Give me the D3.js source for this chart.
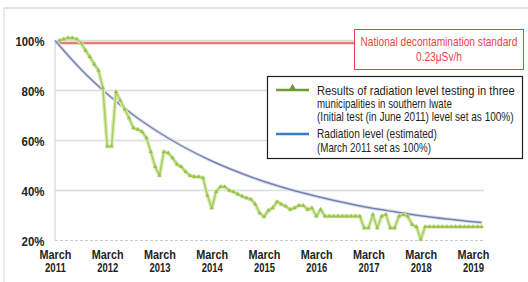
<!DOCTYPE html>
<html><head><meta charset="utf-8">
<script src="https://cdn.jsdelivr.net/npm/d3@7"></script>
<style>
html,body{margin:0;padding:0;background:#fff;}
svg{display:block;}
text{font-family:"Liberation Sans",sans-serif;}
</style></head>
<body><svg id="c" width="528" height="282"></svg>
<script>
// ---- data ----
const xTickLabels = ["2011","2012","2013","2014","2015","2016","2017","2018","2019"];
const yTicks = [20,40,60,80,100];
// measured series: months after March 2011, value (%)
const measuredMonths = [1,2,3,4,5,6,7,8,9,10,11,12,13,14,15,16,17,18,19,20,21,22,23,24,25,26,27,28,29,30,31,32,33,34,35,36,37,38,39,40,41,42,43,44,45,46,47,48,49,50,51,52,53,54,55,56,57,58,59,60,61,62,63,64,65,66,67,68,69,70,71,72,73,74,75,76,77,78,79,80,81,82,83,84,85,86,87,88,89,90,91,92,93,94,95,96,97,98];
const measuredValues = [100,100.5,101,101,100.5,99,96,93.5,90.5,88,81,57.7,57.7,79.5,76,72.5,69,65,64.4,63.5,61,55.5,49.5,46,55.5,55,53,50.5,49.5,47.5,46,45.5,45.5,45,38,33,39.5,41.5,41.5,40,39.5,38.5,37.7,37,36.5,34.5,31,29.5,32,33,35.5,34.5,33.7,32.4,33,34,34,32.4,33,29.7,32.4,29.7,29.7,29.7,29.7,29.7,29.7,29.7,29.7,29.7,25,25,30.4,25,29.7,30.4,25,25,29.7,30.4,29.7,26.4,25.5,20.4,25.5,25.5,25.5,25.5,25.5,25.5,25.5,25.5,25.5,25.5,25.5,25.5,25.5,25.5];
// estimated series: months after March 2011, value (%)
const estimatedMonths = [0,6,12,18,24,30,36,42,48,54,60,66,72,78,84,90,96,98];
const estimatedValues = [100,88.4,78.6,70.2,63.1,57,51.8,47.4,43.6,40.4,37.7,35.3,33.2,31.5,29.9,28.6,27.5,27.2];
const standardValue = 99;
const standardLabel = ["National decontamination standard","0.23μSv/h"];
const legendMeasured = ["Results of radiation level testing in three","municipalities in southern Iwate","(Initial test (in June 2011) level set as 100%)"];
const legendEstimated = ["Radiation level (estimated)","(March 2011 set as 100%)"];

function draw(){
const svg = d3.select("#c");
const x = d3.scaleLinear().domain([0,96]).range([55,473]);
const y = d3.scaleLinear().domain([20,100]).range([240.5,40.5]);
const xEnd = x(98.5);

// place a text at (px,py), horizontally scaled to width w
function addText(parent, str, px, py, w, anchor, attrs){
  const t = parent.append("text").text(str).attr("x",0).attr("y",0).attr("text-anchor","start");
  Object.entries(attrs).forEach(([k,v])=>t.attr(k,v));
  const nat = t.node().getComputedTextLength();
  const s = w / nat;
  const dx = anchor === "middle" ? -w/2 : anchor === "end" ? -w : 0;
  t.attr("transform",`translate(${px+dx},${py}) scale(${s},1)`);
  return t;
}

// frame
svg.append("rect").attr("x",0).attr("y",0).attr("width",528).attr("height",282).attr("fill","#fff");
svg.append("line").attr("x1",4).attr("x2",528).attr("y1",8).attr("y2",8).attr("stroke","#e2e2e2").attr("stroke-width",2);
svg.append("line").attr("x1",4).attr("x2",4).attr("y1",8).attr("y2",282).attr("stroke","#e6e6e6").attr("stroke-width",1.5);

// grid
svg.append("g").selectAll("line").data(yTicks.filter(d=>d>20)).join("line")
  .attr("x1",55).attr("x2",xEnd).attr("y1",d=>y(d)).attr("y2",d=>y(d))
  .attr("stroke","#dcdcdc").attr("stroke-width",1.3);
svg.append("line").attr("x1",55).attr("x2",xEnd).attr("y1",y(20)).attr("y2",y(20))
  .attr("stroke","#c8c8c8").attr("stroke-width",1).attr("stroke-dasharray","3,2");
svg.append("line").attr("x1",55).attr("x2",55).attr("y1",y(100)).attr("y2",y(20))
  .attr("stroke","#d0d0d0").attr("stroke-width",1);

// y axis (labels)
const yAxis = d3.axisLeft(y).tickValues(yTicks).tickFormat("").tickSize(0);
const ya = svg.append("g").attr("transform","translate(55,0)").call(yAxis);
ya.select(".domain").remove();
ya.selectAll(".tick text").remove();
ya.selectAll(".tick").each(function(d){
  addText(d3.select(this), d+"%", -10.5, 4.5, d===100 ? 29 : 23, "end",
    {"font-size":12.5,"font-weight":"bold","fill":"#231f20"});
});

// x axis (labels)
const xAxis = d3.axisBottom(x).tickValues(xTickLabels.map((d,i)=>i*12)).tickSize(0).tickFormat("");
const xa = svg.append("g").attr("transform","translate(0,241)").call(xAxis);
xa.select(".domain").remove();
xa.selectAll(".tick text").remove();
xa.selectAll(".tick").each(function(d,i){
  const g = d3.select(this);
  const a = {"font-size":12.5,"font-weight":"bold","fill":"#231f20"};
  addText(g, "March", 0, 18, 32, "middle", a);
  addText(g, xTickLabels[i], 0, 31, 21, "middle", a);
});

// standard line
svg.append("line").attr("x1",55).attr("x2",354).attr("y1",y(standardValue)).attr("y2",y(standardValue))
  .attr("stroke","#f8d8d4").attr("stroke-width",4);
svg.append("line").attr("x1",55).attr("x2",354).attr("y1",y(standardValue)).attr("y2",y(standardValue))
  .attr("stroke","#e0604f").attr("stroke-width",1.6);

// estimated line
const est = estimatedMonths.map((m,i)=>({m, v:estimatedValues[i]}));
const estLine = d3.line().x(d=>x(d.m)).y(d=>y(d.v)).curve(d3.curveMonotoneX);
svg.append("path").datum(est).attr("d", estLine)
  .attr("fill","none").attr("stroke","#dfe2ef").attr("stroke-width",3.5);
svg.append("path").datum(est).attr("d", estLine)
  .attr("fill","none").attr("stroke","#7480b2").attr("stroke-width",1.4);

// measured line
const meas = measuredMonths.map((m,i)=>({m, v:measuredValues[i]}));
const measLine = d3.line().x(d=>x(d.m)).y(d=>y(d.v));
svg.append("path").datum(meas).attr("d", measLine)
  .attr("fill","none").attr("stroke","#dbecb6").attr("stroke-width",4).attr("stroke-linejoin","round");
svg.append("path").datum(meas).attr("d", measLine)
  .attr("fill","none").attr("stroke","#a8cc62").attr("stroke-width",1.5).attr("stroke-linejoin","round");
const tri = d3.symbol().type(d3.symbolTriangle).size(8);
svg.append("g").selectAll("path").data(meas).join("path")
  .attr("transform",d=>`translate(${x(d.m)},${y(d.v)})`).attr("d",tri).attr("fill","#98c24c");

// standard box
const sb = svg.append("g");
sb.append("rect").attr("x",354.5).attr("y",29.5).attr("width",169).attr("height",40)
  .attr("fill","#fff").attr("stroke","#e8404a").attr("stroke-width",1);
standardLabel.forEach((s,i)=>addText(sb, s, 439, 46+i*15, i===0 ? 157 : 46, "middle",
  {"font-size":12.5,"fill":"#ea3f47"}));

// legend
const lg = svg.append("g");
lg.append("rect").attr("x",267.5).attr("y",76.5).attr("width",255).attr("height",82)
  .attr("fill","#fff").attr("stroke","#231f20").attr("stroke-width",1.2);
lg.append("line").attr("x1",276).attr("x2",309).attr("y1",90).attr("y2",90).attr("stroke","#6f9a38").attr("stroke-width",2.5);
lg.append("path").attr("transform","translate(292.5,88.5)").attr("d",d3.symbol().type(d3.symbolTriangle).size(30)).attr("fill","#6f9a38");
const la = {"font-size":12,"fill":"#231f20"};
const mW = [198,135,197];
legendMeasured.forEach((s,i)=>addText(lg, s, 317, 94.5+i*13.2, mW[i], "start", la));
lg.append("line").attr("x1",276).attr("x2",309).attr("y1",134).attr("y2",134).attr("stroke","#2f80c8").attr("stroke-width",2.5);
const eW = [120,114];
legendEstimated.forEach((s,i)=>addText(lg, s, 317, 138+i*13.5, eW[i], "start", la));
}

if (document.fonts && document.fonts.ready) { document.fonts.ready.then(draw); } else { draw(); }
</script></body></html>
